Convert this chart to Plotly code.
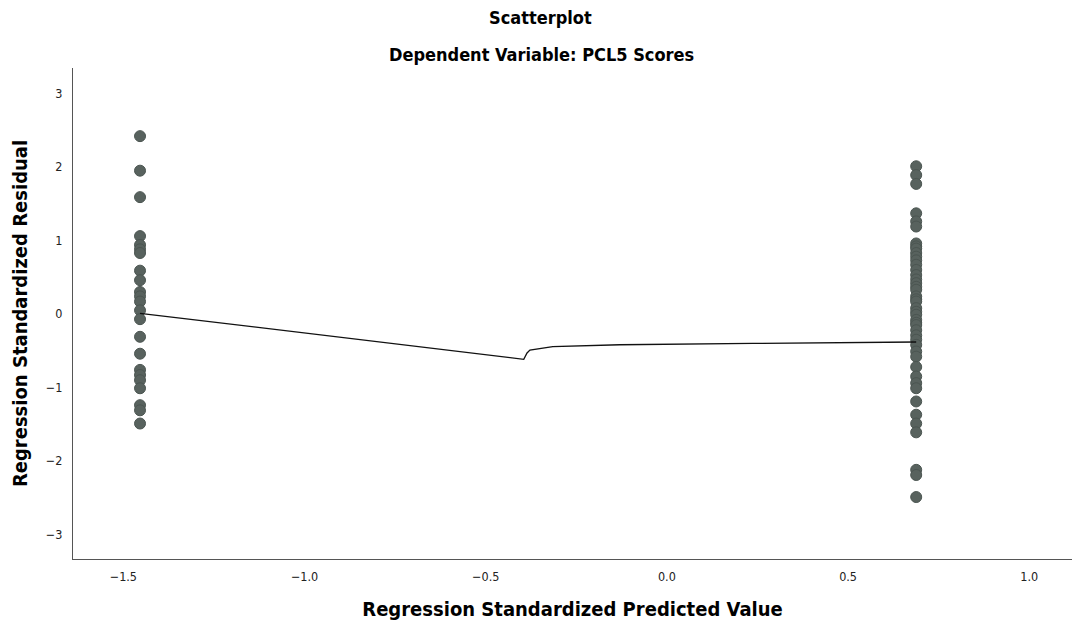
import plotly.graph_objects as go

# Predicted values (two groups) and standardized residuals
left_x_value = -1.454
right_x_value = 0.688

left_residuals = [2.42, 1.95, 1.59, 1.06, 0.94, 0.88, 0.83, 0.59, 0.46, 0.30, 0.24, 0.17,
                  0.05, -0.07, -0.31, -0.54, -0.76, -0.83, -0.90, -1.01, -1.24, -1.31, -1.49]
right_residuals = [2.01, 1.89, 1.77, 1.37, 1.26, 1.19, 0.96, 0.92, 0.89, 0.83, 0.78, 0.73,
                   0.67, 0.60, 0.53, 0.47, 0.42, 0.37, 0.33, 0.24, 0.20, 0.17, 0.08, 0.03,
                   -0.01, -0.08, -0.12, -0.15, -0.22, -0.29, -0.35, -0.42, -0.51, -0.58,
                   -0.72, -0.85, -0.94, -1.01, -1.19, -1.37, -1.49, -1.61, -2.12, -2.19, -2.49]

# Loess fit line
fit_x = [-1.454, -0.395, -0.386, -0.378, -0.315, -0.13, 0.237, 0.688]
fit_y = [0.01, -0.616, -0.53, -0.49, -0.445, -0.418, -0.40, -0.381]

x_ticks = [-1.5, -1.0, -0.5, 0.0, 0.5, 1.0]
x_tick_labels = ["\u22121.5", "\u22121.0", "\u22120.5", "0.0", "0.5", "1.0"]
y_ticks = [-3, -2, -1, 0, 1, 2, 3]
y_tick_labels = ["\u22123", "\u22122", "\u22121", "0", "1", "2", "3"]

FONT = "Liberation Sans Narrow, DejaVu Sans Condensed, Roboto Condensed, Arial Narrow, sans-serif"
marker = dict(size=11, color="#58625e", line=dict(color="#4b5551", width=1))

xs = [left_x_value] * len(left_residuals) + [right_x_value] * len(right_residuals)
ys = left_residuals + right_residuals

fig = go.Figure()
fig.add_trace(go.Scatter(x=xs, y=ys, mode="markers", marker=marker, showlegend=False))
fig.add_trace(go.Scatter(x=fit_x, y=fit_y, mode="lines",
                         line=dict(color="#111111", width=1.3), showlegend=False))

fig.update_layout(
    width=1072, height=627,
    margin=dict(l=73, r=0, t=68, b=68),
    paper_bgcolor="white", plot_bgcolor="white",
    font=dict(family=FONT, color="#000000"),
    xaxis=dict(range=[-1.639, 1.118], tickvals=x_ticks, ticktext=x_tick_labels,
               showgrid=False, zeroline=False, showline=True, linecolor="#555555",
               linewidth=1.2, ticks="", ticklabelstandoff=6,
               tickfont=dict(size=12.5, family=FONT, color="#222222"),
               title=dict(text="<b>Regression Standardized Predicted Value</b>",
                          font=dict(size=20, family=FONT), standoff=18)),
    yaxis=dict(range=[-3.333, 3.347], tickvals=y_ticks, ticktext=y_tick_labels,
               showgrid=False, zeroline=False, showline=True, linecolor="#555555",
               linewidth=1.2, ticks="", ticklabelstandoff=7,
               tickfont=dict(size=12.5, family=FONT, color="#222222"),
               title=dict(text="<b>Regression Standardized Residual</b>",
                          font=dict(size=20, family=FONT), standoff=12)),
    annotations=[
        dict(text="<b>Scatterplot</b>", xref="paper", yref="paper",
             x=(540 - 73) / 999, y=(559 - 18) / 491, xanchor="center", yanchor="middle",
             showarrow=False, font=dict(size=18, family=FONT)),
        dict(text="<b>Dependent Variable: PCL5 Scores</b>", xref="paper", yref="paper",
             x=(541 - 73) / 999, y=(559 - 54) / 491, xanchor="center", yanchor="middle",
             showarrow=False, font=dict(size=18, family=FONT)),
    ],
)

fig.write_html("out.html")
